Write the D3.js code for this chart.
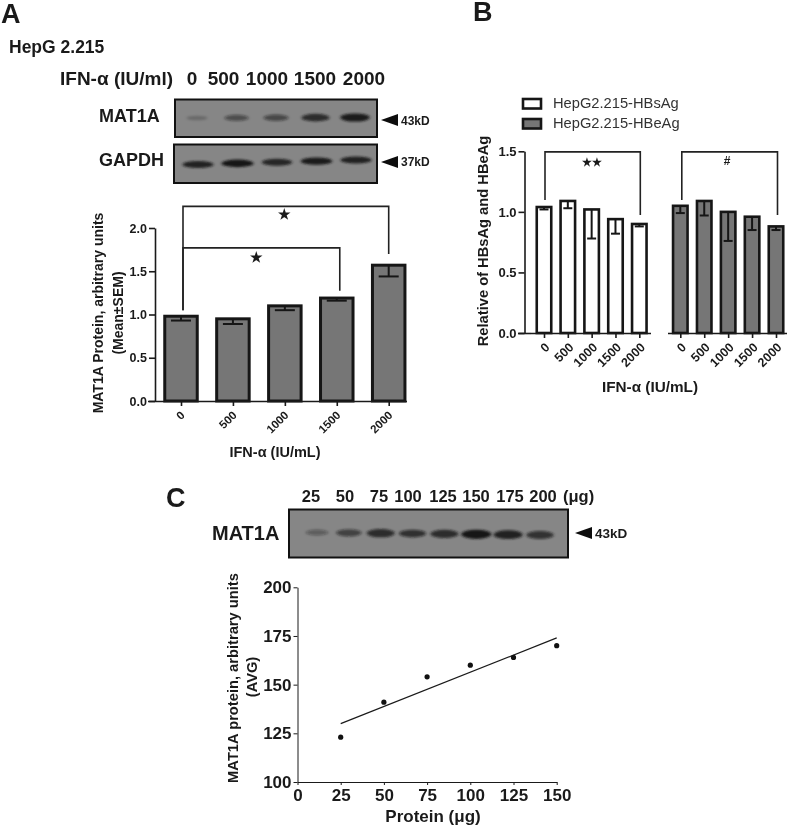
<!DOCTYPE html>
<html><head><meta charset="utf-8">
<script src="https://cdn.jsdelivr.net/npm/d3@7"></script>
<style>
html,body{margin:0;padding:0;background:#fff}
svg{display:block;filter:blur(.45px)}
text{font-family:"Liberation Sans",Arial,sans-serif;font-weight:bold;fill:#1a1a1a}
</style></head><body>
<script>
// Panel A
const doseLabels = ["0","500","1000","1500","2000"];
const aValues = [0.98,0.95,1.10,1.19,1.57];
const aErrLow = [0.93,0.89,1.05,1.16,1.44];
const aTicks = [0,0.5,1,1.5,2];
const aSig = [{from:0,to:4,top:2.25,leftEnd:1.05,rightEnd:1.70,star:2.16,at:2},{from:0,to:3,top:1.77,leftEnd:1.05,rightEnd:1.275,star:1.66,at:1.45}];
const mat1aA = [0.12,0.45,0.5,0.8,0.95];
const gapdhA = [0.9,1,0.85,0.95,0.9];
// Panel B
const hbsValues = [1.04,1.09,1.02,0.94,0.90];
const hbsErrLow = [1.02,1.03,0.78,0.82,0.88];
const hbeValues = [1.05,1.09,1.00,0.96,0.88];
const hbeErrLow = [0.99,0.97,0.76,0.85,0.85];
const bTicks = [0,0.5,1,1.5];
const legendLabels = ["HepG2.215-HBsAg","HepG2.215-HBeAg"];
// Panel C
const proteinLabels = ["25","50","75","100","125","150","175","200"];
const mat1aC = [0.3,0.55,0.8,0.7,0.8,1,0.9,0.75];
const cX = [25,50,75,100,125,150];
const cY = [123,141,154,160,164,170];
const cFit = [[25,130],[150,174]];
const cXTicks = [0,25,50,75,100,125,150];
const cYTicks = [100,125,150,175,200];

const svg = d3.select("body").append("svg").attr("width",800).attr("height",826);
const defs = svg.append("defs");
defs.append("filter").attr("id","bandBlur").attr("x","-30%").attr("y","-80%").attr("width","160%").attr("height","260%")
  .append("feGaussianBlur").attr("stdDeviation","1.5 1.3");

function txt(x,y,s,size,opt={}){
  const t = svg.append("text").attr("x",x).attr("y",y).attr("font-size",size).text(s);
  if(opt.anchor) t.attr("text-anchor",opt.anchor);
  if(opt.rot) t.attr("transform",`rotate(${opt.rot} ${x} ${y})`);
  if(opt.weight) t.style("font-weight",opt.weight);
  if(opt.fill) t.style("fill",opt.fill);
  return t;
}
function blot(x0,y0,x1,y1,values,laneFrom,laneTo,yFrom,yTo,wBase,hBase){
  const g = svg.append("g");
  g.append("rect").attr("x",x0).attr("y",y0).attr("width",x1-x0).attr("height",y1-y0).attr("fill","#868686");
  const lane = d3.scaleLinear().domain([0,values.length-1]).range([laneFrom,laneTo]);
  const yy = d3.scaleLinear().domain([0,values.length-1]).range([yFrom,yTo]);
  const op = d3.scaleLinear().domain([0,1]).range([0.1,1]);
  g.append("g").attr("filter","url(#bandBlur)").selectAll("ellipse").data(values).join("ellipse")
    .attr("cx",(d,i)=>lane(i)).attr("cy",(d,i)=>yy(i))
    .attr("rx",d=>wBase*(0.65+0.35*d)).attr("ry",d=>hBase*(0.5+0.5*d))
    .attr("fill","#161616").attr("opacity",d=>op(d));
  g.append("rect").attr("x",x0).attr("y",y0).attr("width",x1-x0).attr("height",y1-y0)
    .attr("fill","none").attr("stroke","#111").attr("stroke-width",2);
}
function arrow(x,y,w,h){
  svg.append("path").attr("d",d3.line()([[x,y],[x+w,y-h/2],[x+w,y+h/2]])+"Z").attr("fill","#0d0d0d");
}
function styleAxis(g,w,size){
  g.selectAll("path.domain").attr("stroke","#1a1a1a").attr("stroke-width",w).attr("fill","none");
  g.selectAll(".tick line").attr("stroke","#1a1a1a").attr("stroke-width",w);
  g.selectAll("text").attr("font-size",size).attr("font-family",null).style("fill","#1a1a1a");
}
function bars(sel,vals,lows,x,y,w,fill,sw,cap){
  const g = sel.append("g");
  g.selectAll("rect").data(vals).join("rect")
    .attr("x",(d,i)=>x(i)-w/2).attr("y",d=>y(d)).attr("width",w).attr("height",d=>y(0)-y(d))
    .attr("fill",fill).attr("stroke","#161616").attr("stroke-width",sw);
  g.selectAll("line.e").data(vals).join("line").attr("class","e")
    .attr("x1",(d,i)=>x(i)).attr("x2",(d,i)=>x(i)).attr("y1",d=>y(d)).attr("y2",(d,i)=>y(lows[i]))
    .attr("stroke","#161616").attr("stroke-width",2);
  g.selectAll("line.c").data(lows).join("line").attr("class","c")
    .attr("x1",(d,i)=>x(i)-cap/2).attr("x2",(d,i)=>x(i)+cap/2).attr("y1",d=>y(d)).attr("y2",d=>y(d))
    .attr("stroke","#161616").attr("stroke-width",2);
}
function bracket(xa,xb,yTop,yL,yR,w){
  svg.append("path").attr("d",d3.line()([[xa,yL],[xa,yTop],[xb,yTop],[xb,yR]]))
    .attr("fill","none").attr("stroke","#222").attr("stroke-width",w);
}
function rotatedLabels(g,size,dx,dy){
  g.selectAll(".tick text").attr("text-anchor","end").attr("dy",null).attr("y",0).attr("x",0)
    .attr("font-size",size).attr("transform",`translate(${dx},${dy}) rotate(-45)`);
}

// ---------- Panel A ----------
txt(1,23,"A",27);
txt(9,53,"HepG 2.215",17.5);
txt(60,85,"IFN-α (IU/ml)",19);
const headerA = d3.scaleLinear().domain([0,1,2,3,4]).range([192,223.5,267,315,364]);
doseLabels.forEach((d,i)=>txt(headerA(i),85,d,19,{anchor:"middle"}));
txt(99,122,"MAT1A",18); txt(99,166,"GAPDH",18);
blot(175,99.5,377,137,mat1aA,197,355,118,117.5,15,4.2);
blot(174,144.5,377,183,gapdhA,198,356,164.5,160,16,3.8);
arrow(381,120,17,12); txt(401,125,"43kD",12);
arrow(381,162,17,12); txt(401,166,"37kD",12);

const ax = d3.scalePoint().domain(d3.range(5)).range([181,388.7]);
const axPos = d3.scaleLinear().domain([0,4]).range([181,388.7]);
const ay = d3.scaleLinear().domain([0,2]).range([401,228]);
bars(svg,aValues,aErrLow,ax,ay,32.5,"#767676",3,20);
const aAxisX = svg.append("g").attr("transform","translate(0,401)")
  .call(d3.axisBottom(ax).tickSizeOuter(0).tickSize(5).tickFormat(i=>doseLabels[i]));
aAxisX.select("path.domain").attr("d","M148,0.5H407");
styleAxis(aAxisX,1.6,11.5);
rotatedLabels(aAxisX,11.5,4,15);
const aAxisY = svg.append("g").attr("transform","translate(155,0)")
  .call(d3.axisLeft(ay).tickValues(aTicks).tickSize(6).tickSizeOuter(0).tickPadding(2).tickFormat(d3.format(".1f")));
styleAxis(aAxisY,1.6,12.5);
aSig.forEach(s=>{
  bracket(ax(s.from)+2,ax(s.to)+(s.to===3?3:0),ay(s.top),ay(s.leftEnd),ay(s.rightEnd),1.6);
  txt(axPos(s.at),ay(s.star)+5,"★",14,{anchor:"middle"});
});
txt(103,313,"MAT1A Protein, arbitrary units",14,{anchor:"middle",rot:-90});
txt(123,313,"(Mean±SEM)",14,{anchor:"middle",rot:-90});
txt(275,457,"IFN-α  (IU/mL)",14.5,{anchor:"middle"});

// ---------- Panel B ----------
txt(473,21,"B",27);
const lc = ["#fff","#767676"];
legendLabels.forEach((d,i)=>{
  svg.append("rect").attr("x",523).attr("y",99+i*20).attr("width",18).attr("height",9.5)
    .attr("fill",lc[i]).attr("stroke","#161616").attr("stroke-width",2.6);
  txt(553,108+i*20,d,14.7,{weight:"normal",fill:"#333"});
});
const bx1 = d3.scalePoint().domain(d3.range(5)).range([544,639.3]);
const bx2 = d3.scalePoint().domain(d3.range(5)).range([680.3,776]);
const by = d3.scaleLinear().domain([0,1.5]).range([333,151.3]);
bars(svg,hbsValues,hbsErrLow,bx1,by,14.5,"#fff",2.6,9);
bars(svg,hbeValues,hbeErrLow,bx2,by,14.5,"#767676",2.6,9);
const bAxisY = svg.append("g").attr("transform","translate(524.5,0)")
  .call(d3.axisLeft(by).tickValues(bTicks).tickSize(6).tickSizeOuter(0).tickPadding(2).tickFormat(d3.format(".1f")));
styleAxis(bAxisY,1.6,13);
[[bx1,[531,651]],[bx2,[668,787]]].forEach(([sc,ext])=>{
  const g = svg.append("g").attr("transform","translate(0,333)")
    .call(d3.axisBottom(sc).tickSize(5).tickSizeOuter(0).tickFormat(i=>doseLabels[i]));
  g.select("path.domain").attr("d",`M${ext[0]},0.5H${ext[1]}`);
  styleAxis(g,1.6,12.5);
  rotatedLabels(g,12.5,6,15);
});
svg.append("line").attr("x1",518).attr("x2",531).attr("y1",333.5).attr("y2",333.5).attr("stroke","#1a1a1a").attr("stroke-width",1.6);
bracket(bx1(0)+1,bx1(4)+1,by(1.495),by(1.098),by(0.975),1.6);
bracket(bx2(0)+1.5,bx2(4)+1.5,by(1.495),by(1.098),by(0.975),1.6);
txt(bx1(2),by(1.495)+14,"★★",11,{anchor:"middle"});
txt(bx2(2)-1,by(1.495)+13,"#",12,{anchor:"middle"});
txt(488,241,"Relative of HBsAg and HBeAg",14.7,{anchor:"middle",rot:-90});
txt(650,392,"IFN-α  (IU/mL)",15.3,{anchor:"middle"});

// ---------- Panel C ----------
txt(166,507,"C",27);
const headerC = d3.scaleLinear().domain([0,1,2,3,4,5,6,7]).range([311,345,379,408,443,476,510,543]);
proteinLabels.forEach((d,i)=>txt(headerC(i),502,d,16.5,{anchor:"middle"}));
txt(563,502,"(μg)",16.5);
txt(212,540,"MAT1A",20);
blot(289,509.5,568,557.5,mat1aC,317,540,532.5,535,15,4.6);
arrow(575,533,17,12); txt(595,538,"43kD",13.5);

const cx = d3.scaleLinear().domain([0,150]).range([297.5,556.7]);
const cy = d3.scaleLinear().domain([100,200]).range([782,587.3]);
svg.append("path").attr("d",d3.line().x(d=>cx(d[0])).y(d=>cy(d[1]))(cFit)).attr("stroke","#1a1a1a").attr("stroke-width",1.2).attr("fill","none");
svg.selectAll("circle.p").data(cX).join("circle").attr("class","p")
  .attr("cx",d=>cx(d)).attr("cy",(d,i)=>cy(cY[i])).attr("r",2.6).attr("fill","#111");
const cAxisX = svg.append("g").attr("transform","translate(0,782)")
  .call(d3.axisBottom(cx).tickValues(cXTicks).tickSize(3).tickSizeOuter(0).tickPadding(4));
styleAxis(cAxisX,1,17);
const cAxisY = svg.append("g").attr("transform","translate(297.5,0)")
  .call(d3.axisLeft(cy).tickValues(cYTicks).tickSize(4).tickSizeOuter(0).tickPadding(2));
styleAxis(cAxisY,1,17);
txt(238,678,"MAT1A protein, arbitrary units",14.7,{anchor:"middle",rot:-90});
txt(257,677,"(AVG)",14.7,{anchor:"middle",rot:-90});
txt(433,822,"Protein (μg)",17,{anchor:"middle"});
</script>
</body></html>
